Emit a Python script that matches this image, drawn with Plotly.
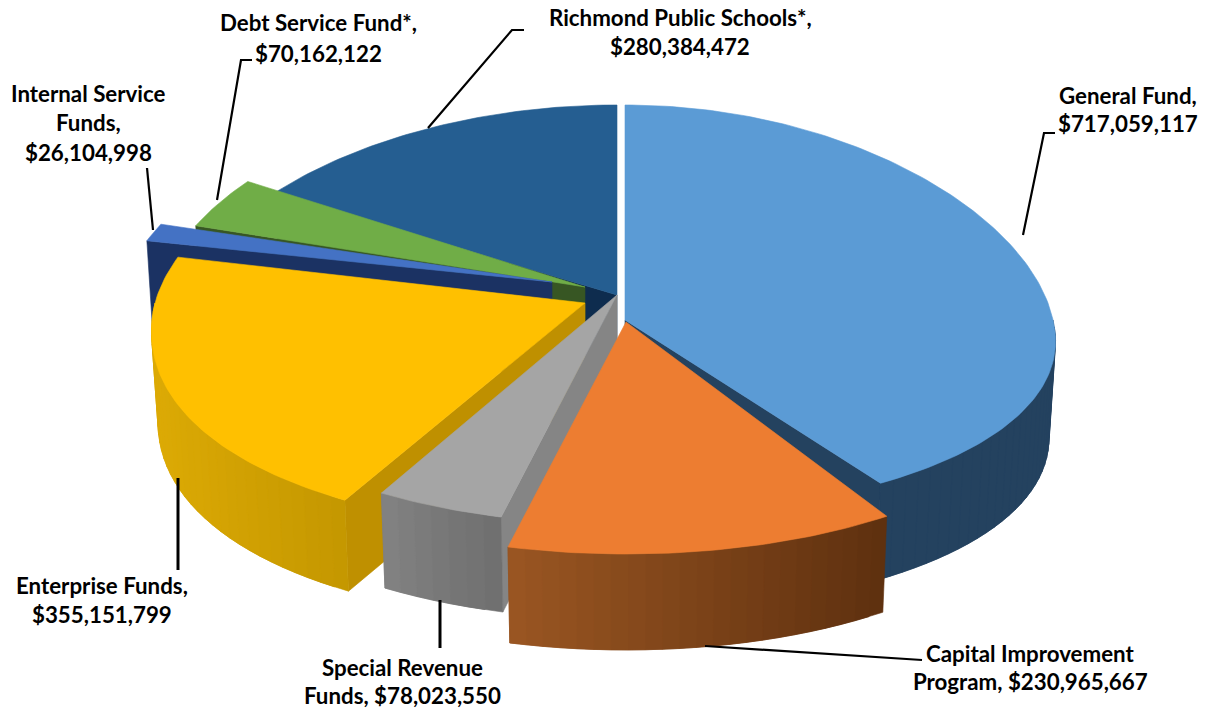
import math
import plotly.graph_objects as go

# ---- data ----
categories = ["General Fund", "Capital Improvement Program", "Special Revenue Funds",
              "Enterprise Funds", "Internal Service Funds", "Debt Service Fund*",
              "Richmond Public Schools*"]
values = [717059117, 230965667, 78023550, 355151799, 26104998, 70162122, 280384472]

# ---- styling ----
top_colors = ["#5b9bd5", "#ed7d31", "#a5a5a5", "#ffc000", "#4472c4", "#70ad47", "#255e91"]
wall_colors = ["#24425f", "#5e300f", "#858585", "#bf9000", "#1b3263", "#375623", "#0e2c4e"]
side_left = ["#24425f", "#9a5622", "#828282", "#dcaa05", "#1b3263", "#375623", "#0e2c4e"]
side_right = ["#24425f", "#5e300f", "#6e6e6e", "#c49700", "#1b3263", "#375623", "#0e2c4e"]
# exploded geometry of each slice on the page: centre x, centre y, radius x,
# far radius y, near radius y, depth, perspective
geom = [
    (625, 320, 428, 215, 195, 97, 0.11),
    (626, 322, 440, 200, 232, 96, 0.10),
    (617, 295, 432, 200, 229, 95, 0.10),
    (585, 303, 430, 206, 228, 91, 0.13),
    (552, 282, 425, 185, 200, 95, 0.10),
    (585, 287, 423, 196, 200, 95, 0.10),
    (617, 295, 429, 190, 200, 95, 0.10),
]
paint_order = [6, 5, 4, 0, 3, 2, 1]
SHRINK = 0.985

labels = [
    (1128, [95, 123], ["General Fund,"]),
    (1030, [653, 681], ["Capital Improvement", "Program,"]),
    (402, [667, 695], ["Special Revenue", "Funds,"]),
    (102, [585, 614], ["Enterprise Funds,"]),
    (88, [93, 122, 152], ["Internal Service", "Funds,"]),
    (318, [22, 53], ["Debt Service Fund*,"]),
    (680, [17, 46], ["Richmond Public Schools*,"]),
]
leaders = [
    ([1023, 1044, 1055], [235, 133, 133], 2.2),
    ([705, 915, 922], [646, 660, 660], 2.2),
    ([440, 440], [600, 648], 3),
    ([178, 178], [478, 570], 3),
    ([153, 147], [230, 168], 2.2),
    ([217, 241, 252], [200, 60, 60], 2.2),
    ([428, 512, 524], [128, 30, 30], 2.2),
]


def rim(g, deg, z=0.0):
    ax, ay, rx, rf, rn, d, persp = g
    a = math.radians(deg)
    u, v = math.sin(a), -math.cos(a)
    x = rx * u * (1 + persp * v)
    y = (rn if v > 0 else rf) * v
    if z:
        return ax + x * SHRINK, ay + y + d
    return ax + x, ay + y


def apex(g, z=0.0):
    return g[0], g[1] + (g[5] if z else 0)


def mix(c0, c1, t):
    a = [int(c0[i:i + 2], 16) for i in (1, 3, 5)]
    b = [int(c1[i:i + 2], 16) for i in (1, 3, 5)]
    return "rgb(%d,%d,%d)" % tuple(round(p + (q - p) * t) for p, q in zip(a, b))


fig = go.Figure()


def poly(points, color, name, lw=0.6):
    xs = [p[0] for p in points] + [points[0][0]]
    ys = [p[1] for p in points] + [points[0][1]]
    fig.add_trace(go.Scatter(x=xs, y=ys, mode="lines", fill="toself", fillcolor=color,
                             line=dict(color=color, width=lw), hoverinfo="text", text=name,
                             showlegend=False))


total = sum(values)
starts = []
acc = 0.0
for v in values:
    starts.append((acc, acc + v / total * 360))
    acc += v / total * 360

for i in paint_order:
    g = geom[i]
    a0, a1 = starts[i]
    name = categories[i]
    n = max(int(a1 - a0), 2)
    angles = [a0 + (a1 - a0) * k / n for k in range(n + 1)]
    # radial walls that face the viewer
    for edge, visible in ((a0, math.sin(math.radians(a0)) < -1e-6),
                          (a1, math.sin(math.radians(a1)) > 1e-6)):
        if visible:
            poly([apex(g), rim(g, edge), rim(g, edge, 1), apex(g, 1)], wall_colors[i], name)
    # outer curved side, shaded strip by strip (each strip runs under the next)
    lo, hi = max(a0, 90), min(a1, 270)
    if hi > lo:
        m = max(int((hi - lo) / 2), 1)
        sa = [lo + (hi - lo) * k / m for k in range(m + 1)]
        xs = [rim(g, s)[0] for s in sa]
        xmin, xmax = min(xs), max(xs)
        for k in range(m):
            mid = (xs[k] + xs[k + 1]) / 2
            t = (mid - xmin) / (xmax - xmin) if xmax > xmin else 0
            end = sa[k + 1]
            chain = [sa[k], end] if k == m - 1 else [sa[k], end, sa[k + 2]]
            poly([rim(g, s) for s in chain] + [rim(g, s, 1) for s in reversed(chain)],
                 mix(side_left[i], side_right[i], t), name)
    # top face
    poly([apex(g)] + [rim(g, s) for s in angles], top_colors[i], name)

for lx, ly, lw in leaders:
    fig.add_trace(go.Scatter(x=lx, y=ly, mode="lines", line=dict(color="black", width=lw),
                             hoverinfo="skip", showlegend=False))

for (cx, ys, lines), val in zip(labels, values):
    money = "${:,}".format(val)
    text = list(lines)
    if text[-1].endswith(",") and len(ys) == len(text):
        text[-1] = text[-1] + " " + money
    else:
        text.append(money)
    for y, t in zip(ys, text):
        fig.add_annotation(x=cx, y=y, text="<b>%s</b>" % t, showarrow=False,
                           xanchor="center", yanchor="middle",
                           font=dict(family="Lato", size=22.3, color="black"))

fig.update_xaxes(range=[0, 1209], visible=False, fixedrange=True)
fig.update_yaxes(range=[709, 0], visible=False, fixedrange=True)
fig.update_layout(width=1209, height=709, margin=dict(l=0, r=0, t=0, b=0),
                  paper_bgcolor="white", plot_bgcolor="white", showlegend=False)
fig.write_html("out.html", config={"displayModeBar": False},
               post_script="document.body.style.margin='0';document.body.style.overflow='hidden';")
